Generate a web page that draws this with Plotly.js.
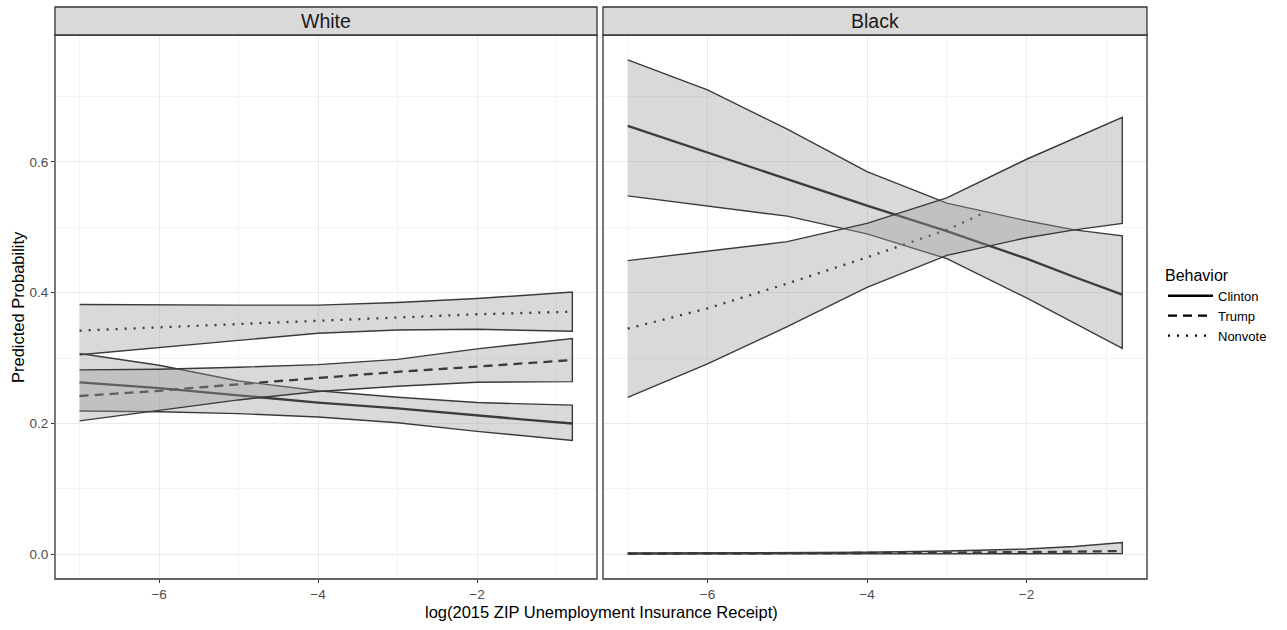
<!DOCTYPE html>
<html>
<head>
<meta charset="utf-8">
<script src="https://cdn.plot.ly/plotly-3.0.1.min.js"></script>
<style>html,body{margin:0;padding:0;background:#fff;}#chart{width:1287px;height:630px;}</style>
</head>
<body>
<div id="chart"></div>
<script>
// ---- data ----
const panels = ["White", "Black"];
const behaviors = ["Clinton", "Trump", "Nonvote"];
const XS = [-7, -6, -5, -4, -3, -2, -1.4, -0.8];

const whiteClinton   = [0.263, 0.254, 0.243, 0.232, 0.223, 0.212, 0.206, 0.200];
const whiteClintonLo = [0.219, 0.218, 0.215, 0.210, 0.201, 0.188, 0.181, 0.174];
const whiteClintonHi = [0.307, 0.289, 0.265, 0.250, 0.240, 0.232, 0.230, 0.228];
const whiteTrump     = [0.242, 0.250, 0.260, 0.270, 0.279, 0.287, 0.292, 0.297];
const whiteTrumpLo   = [0.204, 0.220, 0.236, 0.249, 0.257, 0.263, 0.264, 0.264];
const whiteTrumpHi   = [0.282, 0.283, 0.286, 0.290, 0.298, 0.314, 0.322, 0.330];
const whiteNonvote   = [0.342, 0.347, 0.352, 0.358, 0.363, 0.367, 0.369, 0.371];
const whiteNonvoteLo = [0.305, 0.316, 0.327, 0.338, 0.343, 0.344, 0.343, 0.341];
const whiteNonvoteHi = [0.382, 0.381, 0.381, 0.381, 0.385, 0.391, 0.396, 0.401];

const blackClinton   = [0.655, 0.614, 0.573, 0.533, 0.494, 0.452, 0.424, 0.397];
const blackClintonLo = [0.548, 0.533, 0.517, 0.490, 0.452, 0.392, 0.353, 0.315];
const blackClintonHi = [0.756, 0.710, 0.650, 0.585, 0.537, 0.510, 0.496, 0.487];
const blackTrump     = [0.001, 0.001, 0.0015, 0.002, 0.0025, 0.003, 0.004, 0.005];
const blackTrumpLo   = [0.0005, 0.0005, 0.0006, 0.0007, 0.0008, 0.0009, 0.001, 0.001];
const blackTrumpHi   = [0.002, 0.002, 0.002, 0.003, 0.005, 0.008, 0.012, 0.018];
const blackNonvoteX  = [-7, -6, -5, -4, -3, -2.55];
const blackNonvote   = [0.345, 0.376, 0.414, 0.454, 0.496, 0.521];
const blackNonvoteLo = [0.240, 0.291, 0.348, 0.408, 0.457, 0.484, 0.496, 0.506];
const blackNonvoteHi = [0.449, 0.463, 0.478, 0.506, 0.545, 0.604, 0.636, 0.668];

const xTickVals = [-6, -4, -2];
const xTickText = ["\u22126", "\u22124", "\u22122"];
const yTickVals = [0, 0.2, 0.4, 0.6];
const yTickText = ["0.0", "0.2", "0.4", "0.6"];

// ---- styles ----
const dashes = {Clinton: "solid", Trump: "9px,6px", Nonvote: "2px,7px"};
const W = 1287, H = 630;
const px = v => v / W, py = v => 1 - v / H;
const FONT = "Liberation Sans, Arial, Helvetica, sans-serif";

function meanTrace(x, y, beh, xa, ya, legend) {
  return {type: "scatter", mode: "lines", x: x, y: y, name: beh, xaxis: xa, yaxis: ya,
    line: {color: "#000", width: 2.3, dash: dashes[beh]}, showlegend: legend,
    legendgroup: beh, hoverinfo: "skip"};
}
function ribbonTrace(x, lo, hi, xa, ya) {
  return {type: "scatter", mode: "lines", x: x.concat(x.slice().reverse()),
    y: hi.concat(lo.slice().reverse()), fill: "toself",
    fillcolor: "rgba(154,154,154,0.38)", line: {color: "#3a3a3a", width: 1.4},
    xaxis: xa, yaxis: ya, showlegend: false, hoverinfo: "skip"};
}

const traces = [
  meanTrace(XS, whiteClinton, "Clinton", "x", "y", true),
  meanTrace(XS, whiteTrump, "Trump", "x", "y", true),
  meanTrace(XS, whiteNonvote, "Nonvote", "x", "y", true),
  meanTrace(XS, blackClinton, "Clinton", "x2", "y2", false),
  meanTrace(XS, blackTrump, "Trump", "x2", "y2", false),
  meanTrace(blackNonvoteX, blackNonvote, "Nonvote", "x2", "y2", false),
  ribbonTrace(XS, whiteClintonLo, whiteClintonHi, "x", "y"),
  ribbonTrace(XS, whiteTrumpLo, whiteTrumpHi, "x", "y"),
  ribbonTrace(XS, whiteNonvoteLo, whiteNonvoteHi, "x", "y"),
  ribbonTrace(XS, blackClintonLo, blackClintonHi, "x2", "y2"),
  ribbonTrace(XS, blackTrumpLo, blackTrumpHi, "x2", "y2"),
  ribbonTrace(XS, blackNonvoteLo, blackNonvoteHi, "x2", "y2")
];

const P1 = [55, 597], P2 = [603, 1147], PT = 35, PB = 579, ST = 7;
const xr = [-7.31, -0.49], yr = [-0.0378, 0.794];
const tickFont = {family: FONT, size: 13.5, color: "#4d4d4d"};

function xaxis(dom, anchor) {
  return {domain: [px(dom[0]), px(dom[1])], anchor: anchor, range: xr, autorange: false,
    tickvals: xTickVals, ticktext: xTickText, ticks: "outside", ticklen: 3, tickwidth: 1,
    tickcolor: "#333", tickfont: tickFont, showgrid: true, gridcolor: "#ebebeb", gridwidth: 1,
    minor: {tickvals: [-7, -5, -3, -1], showgrid: true, gridcolor: "#f4f4f4", gridwidth: 1, ticks: ""},
    zeroline: false, showline: false, automargin: false, fixedrange: true};
}
function yaxis(anchor, labels) {
  return {domain: [py(PB), py(PT)], anchor: anchor, range: yr, autorange: false,
    tickvals: yTickVals, ticktext: yTickText, showticklabels: labels,
    ticks: labels ? "outside" : "", ticklen: 3, tickwidth: 1, tickcolor: "#333",
    tickfont: tickFont, showgrid: true, gridcolor: "#ebebeb", gridwidth: 1,
    minor: {tickvals: [0.1, 0.3, 0.5, 0.7], showgrid: true, gridcolor: "#f4f4f4", gridwidth: 1, ticks: ""},
    zeroline: false, showline: false, automargin: false, fixedrange: true};
}

const shapes = [];
const annotations = [];
[P1, P2].forEach((p, i) => {
  shapes.push({type: "rect", xref: "paper", yref: "paper", x0: px(p[0]), x1: px(p[1]),
    y0: py(PB), y1: py(PT), line: {color: "#333", width: 1.3}, fillcolor: "rgba(0,0,0,0)", layer: "above"});
  shapes.push({type: "rect", xref: "paper", yref: "paper", x0: px(p[0]), x1: px(p[1]),
    y0: py(PT), y1: py(ST), line: {color: "#333", width: 1.3}, fillcolor: "#d9d9d9", layer: "above"});
  annotations.push({xref: "paper", yref: "paper", x: px((p[0] + p[1]) / 2), y: py((PT + ST) / 2),
    text: panels[i], showarrow: false, xanchor: "center", yanchor: "middle",
    font: {family: FONT, size: 19.5, color: "#1a1a1a"}});
});
annotations.push({xref: "paper", yref: "paper", x: px((P1[0] + P2[1]) / 2), y: py(612),
  text: "log(2015 ZIP Unemployment Insurance Receipt)", showarrow: false,
  xanchor: "center", yanchor: "middle",
  font: {family: FONT, size: 16.5, color: "#000"}});
annotations.push({xref: "paper", yref: "paper", x: px(18), y: py((PT + PB) / 2),
  text: "Predicted Probability", showarrow: false, textangle: -90,
  xanchor: "center", yanchor: "middle",
  font: {family: FONT, size: 16.5, color: "#000"}});

const layout = {
  width: W, height: H, margin: {l: 0, r: 0, t: 0, b: 0},
  paper_bgcolor: "#fff", plot_bgcolor: "#fff",
  font: {family: FONT},
  xaxis: xaxis(P1, "y"), yaxis: yaxis("x", true),
  xaxis2: xaxis(P2, "y2"), yaxis2: yaxis("x2", false),
  shapes: shapes, annotations: annotations,
  showlegend: true,
  legend: {x: px(1163), y: py(260), xanchor: "left", yanchor: "top",
    title: {text: "Behavior", font: {family: FONT, size: 16, color: "#000"}},
    font: {family: FONT, size: 13, color: "#000"}, bgcolor: "rgba(0,0,0,0)", tracegroupgap: 0,
    itemwidth: 45}
};

Plotly.newPlot("chart", traces, layout, {displayModeBar: false, staticPlot: true});
</script>
</body>
</html>
